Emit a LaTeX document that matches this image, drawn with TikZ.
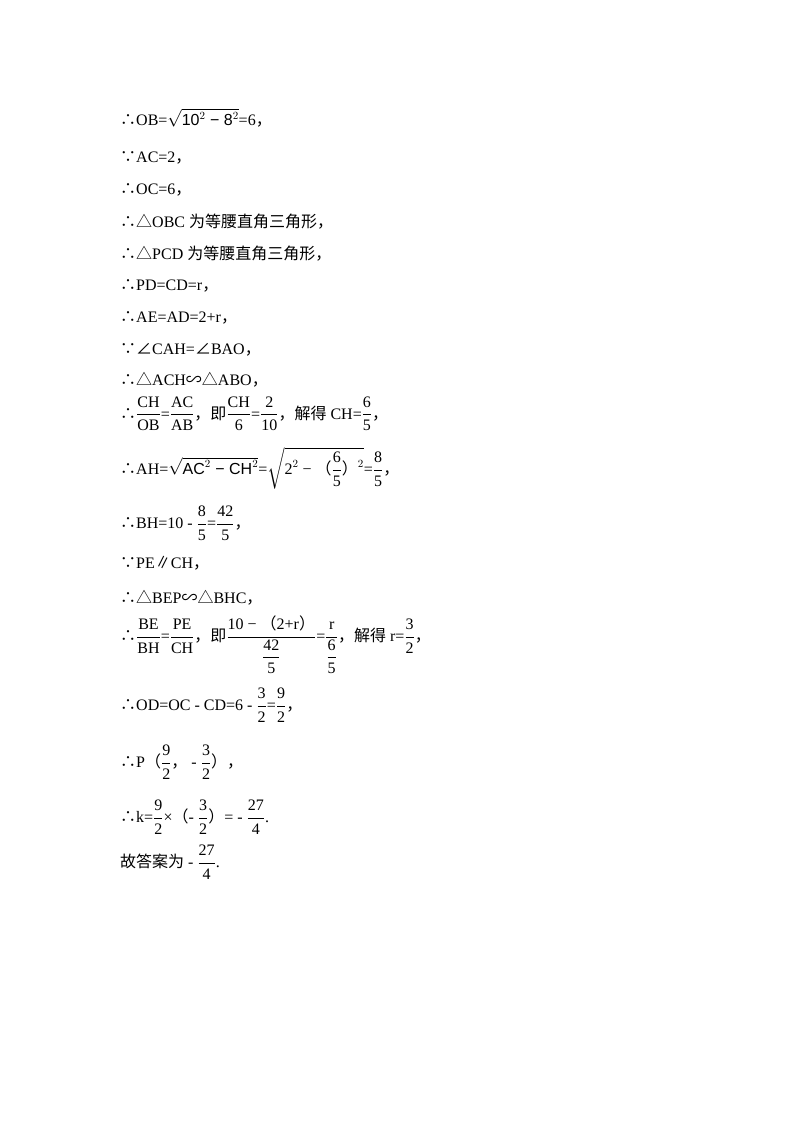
\documentclass[tikz,border=0pt]{standalone}
\usepackage{amsmath}
\usepackage{fontspec}
\setmainfont{Liberation Serif}
\newfontfamily\cjk{Noto Sans CJK SC}
\newfontfamily\ar{Liberation Sans}
\newcommand{\so}{{\cjk ∴}}
\newcommand{\bc}{{\cjk ∵}}
\newcommand{\tri}{{\cjk △}}
\newcommand{\ang}{{\cjk ∠}}
\newcommand{\simsym}{{\cjk ∽}}
\newcommand{\lp}{{\cjk （}}
\newcommand{\rp}{{\cjk ）}}
\newcommand{\zh}[1]{{\cjk #1}}
\newcommand{\fr}[2]{$\dfrac{\text{#1}}{\text{#2}}$}
\begin{document}
\begin{tikzpicture}[x=1pt,y=-1pt,
  ln/.style={anchor=west,inner sep=0pt,font=\fontsize{16}{19}\selectfont}]
\useasboundingbox (0,0) rectangle (800,1132);
\node[ln] (l1) at (120,118) {\so OB=$\sqrt{\text{\ar 10$^2$ − 8$^2$}}$=6\zh{，}};
\node[ln] (l2) at (120,158) {\bc AC=2\zh{，}};
\node[ln] (l3) at (120,190) {\so OC=6\zh{，}};
\node[ln] (l4) at (120,222) {\so\tri OBC \zh{为等腰直角三角形，}};
\node[ln] (l5) at (120,254) {\so\tri PCD \zh{为等腰直角三角形，}};
\node[ln] (l6) at (120,286) {\so PD=CD=r\zh{，}};
\node[ln] (l7) at (120,318) {\so AE=AD=2+r\zh{，}};
\node[ln] (l8) at (120,350) {\bc\ang CAH=\ang BAO\zh{，}};
\node[ln] (l9) at (120,380) {\so\tri ACH\simsym\tri ABO\zh{，}};
\node[ln] (l10) at (120,414) {\so\fr{CH}{OB}=\fr{AC}{AB}\zh{，即}\fr{CH}{6}=\fr{2}{10}\zh{，解得} CH=\fr{6}{5}\zh{，}};
\node[ln] (l11) at (120,468) {\so AH=$\sqrt{\text{\ar AC$^2$ − CH$^2$}}$=$\sqrt{\text{2$^2$ − \lp\fr{6}{5}\rp$^2$}}$=\fr{8}{5}\zh{，}};
\node[ln] (l12) at (120,523) {\so BH=10 - \fr{8}{5}=\fr{42}{5}\zh{，}};
\node[ln] (l13) at (120,563) {\bc PE\zh{∥}CH\zh{，}};
\node[ln] (l14) at (120,598) {\so\tri BEP\simsym\tri BHC\zh{，}};
\node[ln] (l15) at (120,645) {\so\fr{BE}{BH}=\fr{PE}{CH}\zh{，即}$\dfrac{\text{10 − \lp 2+r\rp}}{\dfrac{\text{42}}{\text{5}}}$=$\dfrac{\text{r}}{\dfrac{\text{6}}{\text{5}}}$\zh{，解得} r=\fr{3}{2}\zh{，}};
\node[ln] (l16) at (120,705) {\so OD=OC - CD=6 - \fr{3}{2}=\fr{9}{2}\zh{，}};
\node[ln] (l17) at (120,762) {\so P\lp\fr{9}{2}\zh{，} - \fr{3}{2}\rp\zh{，}};
\node[ln] (l18) at (120,817) {\so k=\fr{9}{2}×\lp - \fr{3}{2}\rp= - \fr{27}{4}.};
\node[ln] (l19) at (120,862) {\zh{故答案为} - \fr{27}{4}.};
\end{tikzpicture}
\end{document}
